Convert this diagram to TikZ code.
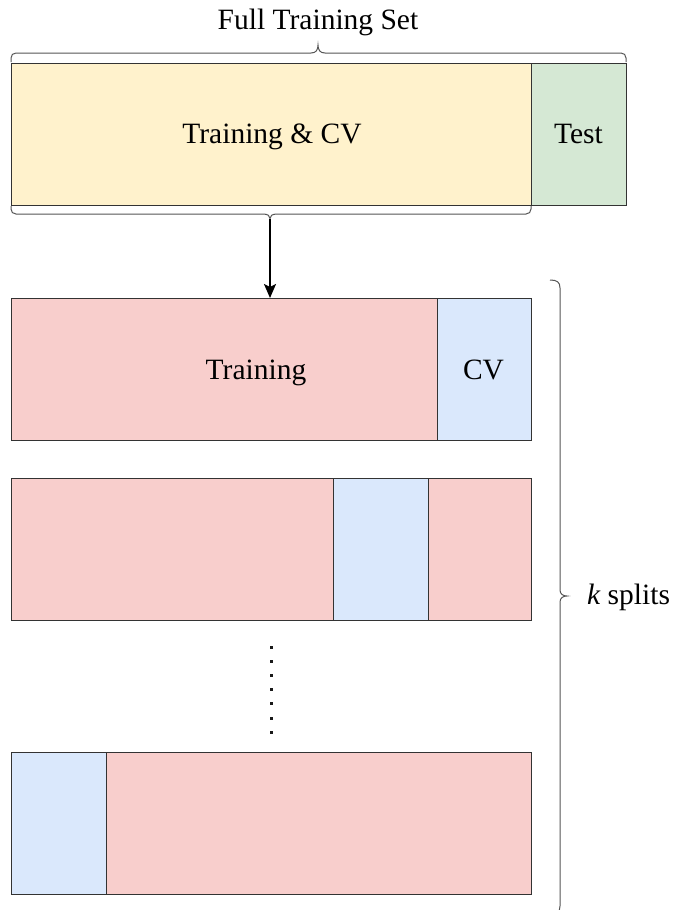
\documentclass[tikz,border=0pt]{standalone}
\usepackage{fontspec}
\setmainfont{Liberation Serif}
\usetikzlibrary{arrows.meta}
\definecolor{yellowc}{HTML}{FFF2CC}
\definecolor{greenc}{HTML}{D5E8D4}
\definecolor{pinkc}{HTML}{F8CECC}
\definecolor{bluec}{HTML}{DAE8FC}
\definecolor{edgec}{HTML}{333333}
\definecolor{bracec}{HTML}{555555}
\begin{document}
\begin{tikzpicture}[x=1pt,y=-1pt,
  box/.style={draw=edgec, line width=1pt, inner sep=0pt, outer sep=0pt, anchor=north west},
  lbl/.style={inner sep=0pt, anchor=base, font=\fontsize{29.5}{35}\selectfont},
  bracestyle/.style={draw=bracec, line width=1pt},
  arrowstyle/.style={draw=black, line width=2pt, -{Stealth[length=14pt,width=12pt,inset=3pt]}}]
\fill[white] (0,0) rectangle (674,910);
\useasboundingbox (0,0) rectangle (674,910);
\clip (0,0) rectangle (674,910);

% title
\node[lbl] (title) at (318,29.5) {Full Training Set};

% top row
\node[box, fill=yellowc, minimum width=520pt, minimum height=142pt] (tcv) at (11,63) {};
\node[box, fill=greenc, minimum width=95pt, minimum height=142pt] (test) at (531,63) {};
\node[lbl] (ltcv) at (272,143) {Training \& CV};
\node[lbl] (ltest) at (578.5,143) {Test};

% top brace over full set
\path[bracestyle] (11,62) -- (11,58) .. controls (11,55) and (13,53) .. (16,53)
  -- (311,53) .. controls (316,53) and (318,50) .. (318,45)
  .. controls (318,50) and (320,53) .. (325,53)
  -- (621,53) .. controls (624,53) and (626,55) .. (626,58) -- (626,62);

% brace under training & CV
\coordinate (tip) at (270,218.5);
\path[bracestyle] (11,206) -- (11,209) .. controls (11,212) and (13,214) .. (16,214)
  -- (263,214) .. controls (268,214) and (270,216) .. (tip)
  .. controls (270,216) and (272,214) .. (277,214)
  -- (526,214) .. controls (529,214) and (531,212) .. (531,209) -- (531,206);

% row 1
\node[box, fill=pinkc, minimum width=426pt, minimum height=142pt] (r1a) at (11,298) {};
\node[box, fill=bluec, minimum width=94pt, minimum height=142pt] (r1b) at (437,298) {};
\node[lbl] (ltrain) at (256,379) {Training};
\node[lbl] (lcv) at (483.5,379) {CV};

% arrow
\draw[arrowstyle] (tip) -- (tip |- r1a.north);

% row 2
\node[box, fill=pinkc, minimum width=322pt, minimum height=142pt] (r2a) at (11,478) {};
\node[box, fill=bluec, minimum width=95pt, minimum height=142pt] (r2b) at (333,478) {};
\node[box, fill=pinkc, minimum width=103pt, minimum height=142pt] (r2c) at (428,478) {};

% dots
\foreach \i in {0,...,6} {
  \fill[black!90] (269.5,645.5+14.2*\i) rectangle ++(3,3);
}

% row k
\node[box, fill=bluec, minimum width=95pt, minimum height=142pt] (r3a) at (11,752) {};
\node[box, fill=pinkc, minimum width=425pt, minimum height=142pt] (r3b) at (106,752) {};

% right brace
\path[bracestyle] (550,280) .. controls (557,280) and (560,282) .. (560,288)
  -- (560,590) .. controls (560,594) and (563,596) .. (567,596)
  .. controls (563,596) and (560,598) .. (560,602)
  -- (560,906) .. controls (560,912) and (557,914) .. (550,914);
\node[lbl, anchor=base west] (lk) at (587,604) {\itshape k\upshape{} splits};
\end{tikzpicture}
\end{document}
